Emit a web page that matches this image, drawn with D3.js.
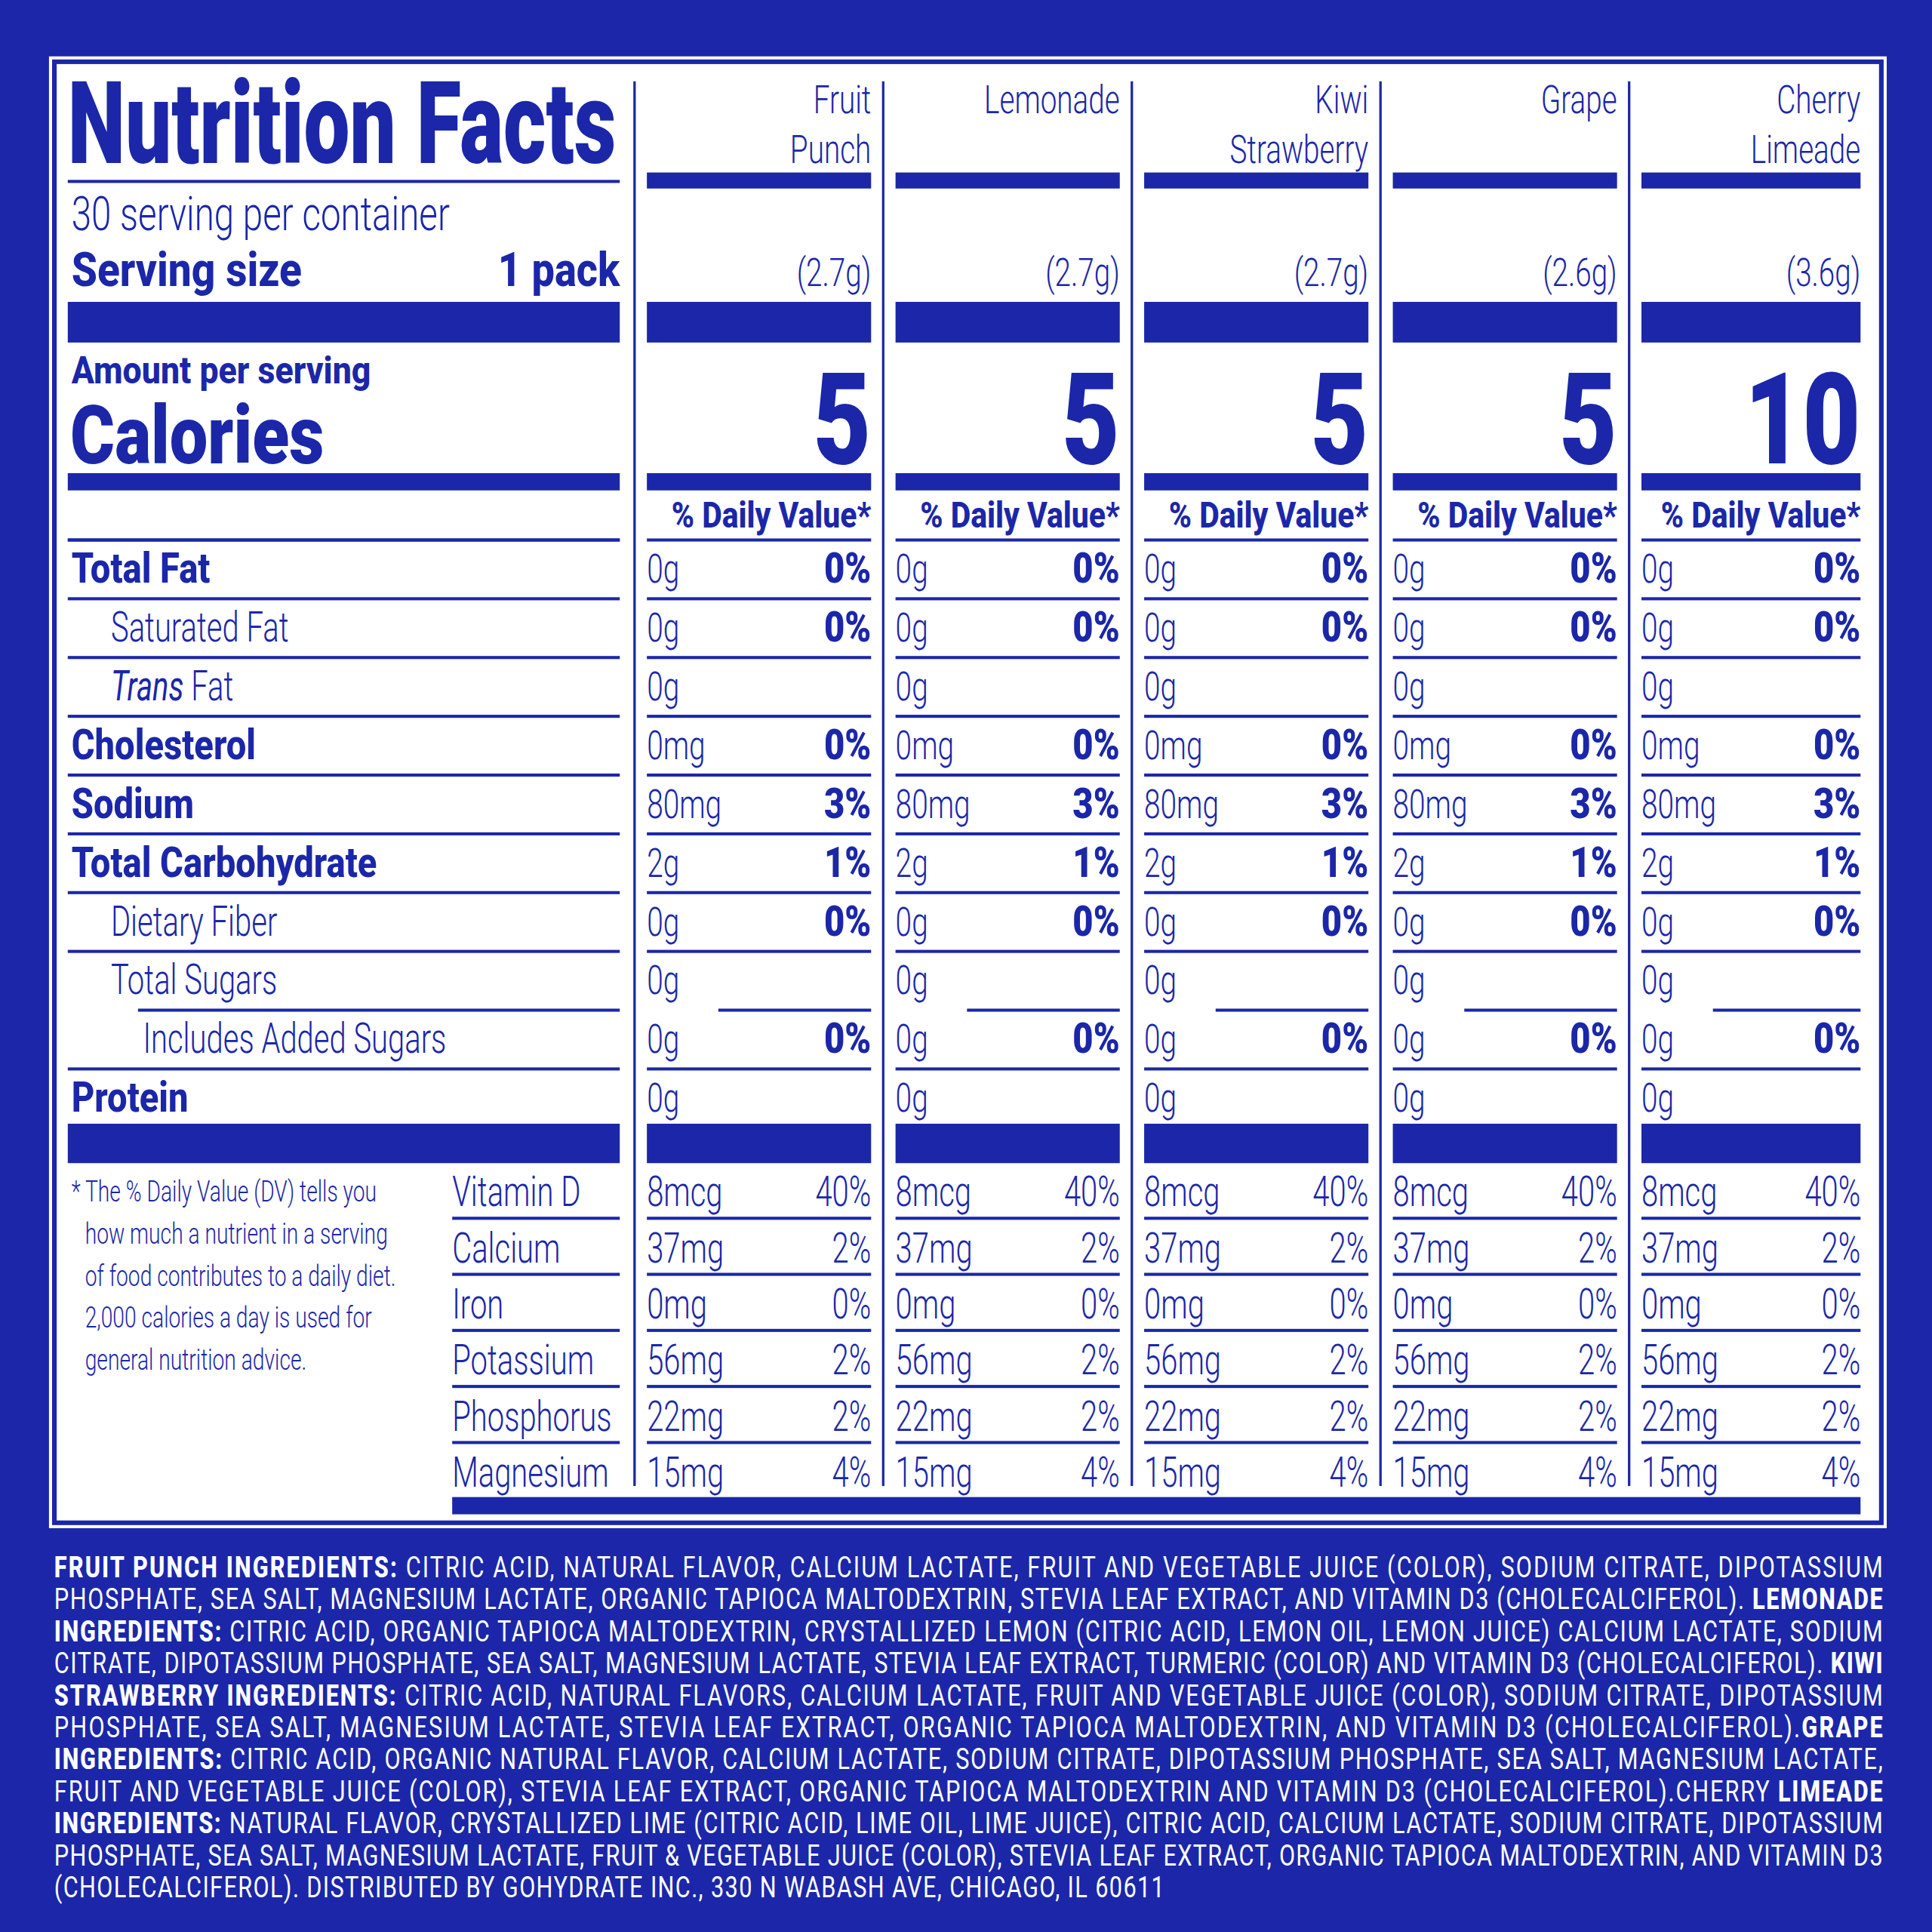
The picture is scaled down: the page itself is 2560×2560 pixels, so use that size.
<!DOCTYPE html>
<html><head><meta charset="utf-8">
<script src="https://cdn.jsdelivr.net/npm/d3@7"></script>
<style>html,body{margin:0;padding:0;background:#1b27a8}svg{display:block}</style>
</head><body>
<script>
const products = ["Fruit Punch","Lemonade","Kiwi Strawberry","Grape","Cherry Limeade"];
const productLines = [["Fruit","Punch"],["Lemonade"],["Kiwi","Strawberry"],["Grape"],["Cherry","Limeade"]];
const servingWeights = ["(2.7g)","(2.7g)","(2.7g)","(2.6g)","(3.6g)"];
const calories = [5,5,5,5,10];
const nutrients = ["Total Fat","Saturated Fat","Trans Fat","Cholesterol","Sodium","Total Carbohydrate","Dietary Fiber","Total Sugars","Includes Added Sugars","Protein"];
const nutrientIndent = [0,1,1,0,0,0,1,1,2,0];
const nutrientAmounts = ["0g","0g","0g","0mg","80mg","2g","0g","0g","0g","0g"];
const nutrientDV = ["0%","0%","","0%","3%","1%","0%","","0%",""];
const vitamins = ["Vitamin D","Calcium","Iron","Potassium","Phosphorus","Magnesium"];
const vitaminAmounts = ["8mcg","37mg","0mg","56mg","22mg","15mg"];
const vitaminDV = ["40%","2%","0%","2%","2%","4%"];
const footnote = ["* The % Daily Value (DV) tells you","how much a nutrient in a serving","of food contributes to a daily diet.","2,000 calories a day is used for","general nutrition advice."];
const ingredients = [
 [["FRUIT PUNCH INGREDIENTS:",1],[" CITRIC ACID, NATURAL FLAVOR, CALCIUM LACTATE, FRUIT AND VEGETABLE JUICE (COLOR), SODIUM CITRATE, DIPOTASSIUM",0]],
 [["PHOSPHATE, SEA SALT, MAGNESIUM LACTATE, ORGANIC TAPIOCA MALTODEXTRIN, STEVIA LEAF EXTRACT, AND VITAMIN D3 (CHOLECALCIFEROL). ",0],["LEMONADE",1]],
 [["INGREDIENTS:",1],[" CITRIC ACID, ORGANIC TAPIOCA MALTODEXTRIN, CRYSTALLIZED LEMON (CITRIC ACID, LEMON OIL, LEMON JUICE) CALCIUM LACTATE, SODIUM",0]],
 [["CITRATE, DIPOTASSIUM PHOSPHATE, SEA SALT, MAGNESIUM LACTATE, STEVIA LEAF EXTRACT, TURMERIC (COLOR) AND VITAMIN D3 (CHOLECALCIFEROL). ",0],["KIWI",1]],
 [["STRAWBERRY INGREDIENTS:",1],[" CITRIC ACID, NATURAL FLAVORS, CALCIUM LACTATE, FRUIT AND VEGETABLE JUICE (COLOR), SODIUM CITRATE, DIPOTASSIUM",0]],
 [["PHOSPHATE, SEA SALT, MAGNESIUM LACTATE, STEVIA LEAF EXTRACT, ORGANIC TAPIOCA MALTODEXTRIN, AND VITAMIN D3 (CHOLECALCIFEROL).",0],["GRAPE",1]],
 [["INGREDIENTS:",1],[" CITRIC ACID, ORGANIC NATURAL FLAVOR, CALCIUM LACTATE, SODIUM CITRATE, DIPOTASSIUM PHOSPHATE, SEA SALT, MAGNESIUM LACTATE,",0]],
 [["FRUIT AND VEGETABLE JUICE (COLOR), STEVIA LEAF EXTRACT, ORGANIC TAPIOCA MALTODEXTRIN AND VITAMIN D3 (CHOLECALCIFEROL).CHERRY ",0],["LIMEADE",1]],
 [["INGREDIENTS:",1],[" NATURAL FLAVOR, CRYSTALLIZED LIME (CITRIC ACID, LIME OIL, LIME JUICE), CITRIC ACID, CALCIUM LACTATE, SODIUM CITRATE, DIPOTASSIUM",0]],
 [["PHOSPHATE, SEA SALT, MAGNESIUM LACTATE, FRUIT & VEGETABLE JUICE (COLOR), STEVIA LEAF EXTRACT, ORGANIC TAPIOCA MALTODEXTRIN, AND VITAMIN D3",0]],
 [["(CHOLECALCIFEROL). DISTRIBUTED BY GOHYDRATE INC., 330 N WABASH AVE, CHICAGO, IL 60611",0]]
];

const BLUE="#1b27a8", FONT="Roboto, 'Liberation Sans', sans-serif";
const svg=d3.select("body").append("svg").attr("width",2560).attr("height",2560).attr("viewBox","0 0 1568 1568");
svg.append("rect").attr("width",1568).attr("height",1568).attr("fill",BLUE);
svg.append("rect").attr("x",41).attr("y",47).attr("width",1489).attr("height",1192).attr("fill","none").attr("stroke","#fff").attr("stroke-width",2.5);
svg.append("rect").attr("x",46).attr("y",52).attr("width",1479).attr("height",1182).attr("fill","#fff");

function T(x,y,s,size,weight,anchor,sx,fill,len){
  sx=sx||0.78;
  const g=svg.append("g").attr("transform",`translate(${x},${y}) scale(${sx},1)`);
  const t=g.append("text").attr("font-family",FONT).attr("font-size",size).attr("font-weight",weight||300)
    .attr("text-anchor",anchor||"start").attr("fill",fill||BLUE).text(s);
  if(len){t.attr("textLength",len/sx).attr("lengthAdjust","spacingAndGlyphs");}
  return t;
}
function bar(x1,x2,y,h){svg.append("rect").attr("x",x1).attr("y",y).attr("width",x2-x1).attr("height",h).attr("fill",BLUE);}

const xCol=d3.scaleBand().domain(products).range([515,1524]);
const rowY=d3.scaleBand().domain(nutrients).range([438,915]);
const vitY=d3.scaleBand().domain(vitamins).range([943,1216]);
const L0=55,L1=503;

T(L0,132,"Nutrition Facts",93,900,"start",0.76,BLUE,445);
bar(L0,L1,146,2.5);
T(58,187,"30 serving per container",38,300,"start",0.76,BLUE,307);
T(58,232,"Serving size",39,800,"start",0.85,BLUE,187);
T(L1,232,"1 pack",39,800,"end",0.85);
bar(L0,L1,245,33);
T(58,311,"Amount per serving",31,800,"start",0.86,BLUE,243);
T(57,376,"Calories",66,900,"start",0.8,BLUE,206);
bar(L0,L1,384,14);
bar(L0,L1,437,2.5);

products.forEach((p,i)=>{
  const x0=xCol(p)+10, x1=Math.min(xCol(p)+192,1510);
  svg.append("line").attr("x1",xCol(p)).attr("x2",xCol(p)).attr("y1",66).attr("y2",1206).attr("stroke",BLUE).attr("stroke-width",2);
  productLines[i].forEach((ln,j)=>T(x1,92+40*j,ln,32,300,"end",0.74));
  bar(x0,x1,140,13);
  T(x1,232,servingWeights[i],32,300,"end",0.74);
  bar(x0,x1,245,33);
  T(x1,376,calories[i],104,900,"end",0.78);
  bar(x0,x1,384,14);
  T(x1,428,"% Daily Value*",30,800,"end",0.85,BLUE,162);
  nutrients.forEach((n,k)=>{
    const y=rowY(n);
    const lx = k===8 ? x0+58 : x0;
    bar(lx,x1,y-1,2.5);
    T(x0,y+35,nutrientAmounts[k],33,300,"start",0.72);
    if(nutrientDV[k]) T(x1,y+35,nutrientDV[k],34,900,"end",0.85);
  });
  bar(x0,x1,912,32);
  vitamins.forEach((v,k)=>{
    const y=vitY(v);
    if(k>0) bar(x0,x1,y-1,2.5);
    T(x0,y+36,vitaminAmounts[k],34,300,"start",0.72);
    T(x1,y+36,vitaminDV[k],34,300,"end",0.72);
  });
});

const indentX=[58,90,116];
nutrients.forEach((n,k)=>{
  const y=rowY(n);
  const lx = k===8 ? 112 : L0;
  bar(lx,L1,y-1,2.5);
  const bold=nutrientIndent[k]===0;
  if(n==="Trans Fat"){
    const g=svg.append("g").attr("transform",`translate(${indentX[1]},${y+35}) scale(0.72,1)`);
    const t=g.append("text").attr("font-family",FONT).attr("font-size",34).attr("fill",BLUE).attr("font-weight",300);
    t.append("tspan").attr("font-style","italic").attr("font-weight",400).text("Trans");
    t.append("tspan").text(" Fat");
  } else if(bold) T(58,y+35,n,34,800,"start",0.85);
  else T(indentX[nutrientIndent[k]],y+35,n,34,300,"start",0.72);
});
bar(L0,L1,912,32);

vitamins.forEach((v,k)=>{
  const y=vitY(v);
  if(k>0) bar(367,L1,y-1,2.5);
  T(367,y+36,v,34,300,"start",0.72);
});
bar(367,1510,1215,14);

footnote.forEach((f,i)=>T(i===0?58:69,975+34.2*i,f,24,300,"start",0.72));

const ingY=d3.scaleLinear().domain([0,1]).range([1280,1306]);
ingredients.forEach((segs,i)=>{
  const last=i===ingredients.length-1;
  const g=svg.append("g").attr("transform",`translate(44,${ingY(i)}) scale(0.8,1)`);
  const t=g.append("text").attr("font-family",FONT).attr("font-size",23.5).attr("fill","#fff");
  segs.forEach(s=>t.append("tspan").attr("font-weight",s[1]?800:400).text(s[0]));
  t.attr("textLength",((last?945:1528)-44)/0.8).attr("lengthAdjust","spacing");
});
</script>
</body></html>
